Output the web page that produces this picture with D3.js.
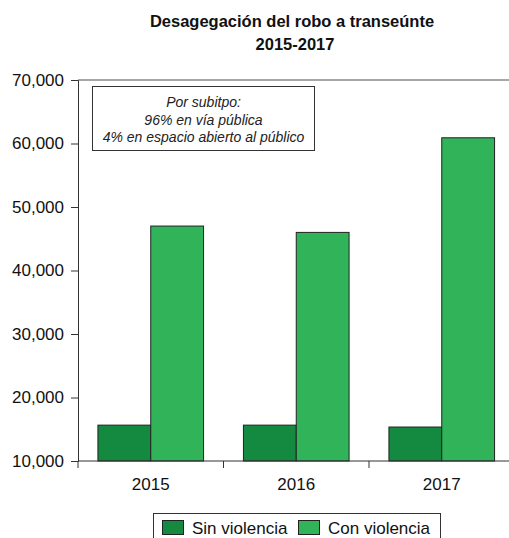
<!DOCTYPE html>
<html><head><meta charset="utf-8">
<script src="https://cdn.jsdelivr.net/npm/d3@7"></script>
<style>
body{margin:0;background:#fff;}
svg{display:block;font-family:"Liberation Sans",Arial,sans-serif;}
</style></head>
<body>
<svg id="c" width="509" height="538"></svg>
<script>
const years = ["2015","2016","2017"];
const seriesNames = ["Sin violencia","Con violencia"];
const sinViolencia = [15650, 15650, 15350];
const conViolencia = [47000, 46000, 60900];
const yTicks = [10000,20000,30000,40000,50000,60000,70000];
const titleLines = ["Desagegación del robo a transeúnte","2015-2017"];
const noteLines = ["Por subitpo:","96% en vía pública","4% en espacio abierto al público"];
const colors = ["#138a3f","#31b35a"];

const svg = d3.select("#c");
const y = d3.scaleLinear().domain([10000,70000]).range([461,80]);
const x = d3.scaleBand().domain(years).range([78,514.5]).paddingInner(0).paddingOuter(0);
const bw = x.bandwidth();
const xs = d3.scaleBand().domain(seriesNames).range([bw*0.137, bw*0.863]).padding(0);

// top border
svg.append("line").attr("x1",78).attr("x2",509).attr("y1",y(70000)).attr("y2",y(70000))
  .attr("stroke","#8a8a8a").attr("stroke-width",1.5);

// title
svg.append("text").attr("x",292).attr("y",27).attr("text-anchor","middle")
  .attr("font-weight","bold").attr("font-size","16.5px").attr("fill","#111").text(titleLines[0]);
svg.append("text").attr("x",295).attr("y",50).attr("text-anchor","middle")
  .attr("font-weight","bold").attr("font-size","16.5px").attr("fill","#111").text(titleLines[1]);

// bars
const data = years.map((yr,i)=>({year:yr, vals:[sinViolencia[i], conViolencia[i]]}));
const g = svg.append("g");
data.forEach(d=>{
  d.vals.forEach((v,j)=>{
    g.append("rect")
      .attr("x", x(d.year)+xs(seriesNames[j]))
      .attr("y", y(v))
      .attr("width", xs.bandwidth())
      .attr("height", y(10000)-y(v))
      .attr("fill", colors[j]).attr("stroke","#222").attr("stroke-width",1);
  });
});

// y axis
const yAxis = d3.axisLeft(y).tickValues(yTicks).tickFormat(d3.format(",")).tickSize(7).tickPadding(7);
const ga = svg.append("g").attr("transform","translate(78,0)").call(yAxis);
ga.select(".domain").attr("stroke","#333");
ga.selectAll(".tick line").attr("stroke","#333");
ga.selectAll("text").attr("font-size","17px").attr("fill","#111").attr("font-family","Liberation Sans, Arial, sans-serif");

// x axis
const xAxis = d3.axisBottom(x).tickSize(0).tickPadding(17);
const gx = svg.append("g").attr("transform","translate(0,461)").call(xAxis);
gx.select(".domain").remove();
svg.append("line").attr("x1",78).attr("x2",509).attr("y1",461).attr("y2",461).attr("stroke","#333");
gx.selectAll("text").attr("font-size","17px").attr("fill","#111").attr("font-family","Liberation Sans, Arial, sans-serif");
// band boundary ticks
years.forEach(yr=>{
  svg.append("line").attr("x1",x(yr)).attr("x2",x(yr)).attr("y1",461).attr("y2",468).attr("stroke","#333");
});

// note box
svg.append("rect").attr("x",92.5).attr("y",86.5).attr("width",222).attr("height",64)
  .attr("fill","#fff").attr("stroke","#333").attr("stroke-width",1);
noteLines.forEach((t,i)=>{
  svg.append("text").attr("x",203.5).attr("y",107+i*17.5).attr("text-anchor","middle")
    .attr("font-style","italic").attr("font-size","14px").attr("fill","#222").text(t);
});

// legend
const lg = svg.append("g");
lg.append("rect").attr("x",153.5).attr("y",513.5).attr("width",287).attr("height",30)
  .attr("fill","#fff").attr("stroke","#333");
const legX = [162, 298];
seriesNames.forEach((n,i)=>{
  lg.append("rect").attr("x",legX[i]+0.5).attr("y",520.5).attr("width",21).attr("height",14)
    .attr("fill",colors[i]).attr("stroke","#222");
  lg.append("text").attr("x",legX[i]+30).attr("y",534).attr("font-size","17px").attr("fill","#111").text(n);
});
</script>
</body></html>
